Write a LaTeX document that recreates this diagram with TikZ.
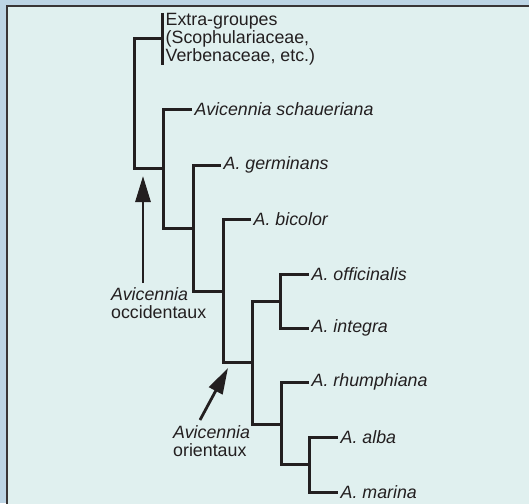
\documentclass[tikz,border=0pt]{standalone}
\usepackage{fontspec}
\setmainfont{Liberation Sans}
\usepackage{xcolor}
\usepackage{tikz}
\usetikzlibrary{arrows.meta, positioning, calc}

\definecolor{outerbg}{HTML}{BDD5E5}
\definecolor{panelbg}{HTML}{E0F0EF}
\definecolor{ink}{HTML}{231F20}
\newcommand{\labfont}{\fontsize{17.8}{18}\selectfont}

\begin{document}
\begin{tikzpicture}[
  x=1pt, y=-1pt,
  branch/.style={draw=ink, line width=3pt, line join=miter},
  taxon/.style={anchor=west, inner xsep=2.5pt, inner ysep=1pt, text=ink, font=\labfont\itshape},
  outgroup/.style={anchor=west, align=left, inner xsep=3.5pt, inner ysep=0pt, text=ink, font=\labfont},
  grouplab/.style={anchor=base west, align=left, inner sep=0pt, text=ink, font=\labfont},
  pointer/.style={draw=ink, line width=2.8pt, -{Triangle[length=26pt, width=15pt]}}
]
  \useasboundingbox (0,0) rectangle (529,503);
  \fill[outerbg] (0,0) rectangle (529,503);
  \filldraw[fill=panelbg, draw=ink!90, line width=2pt] (7,6) rectangle (540,515);

  % taxa
  \node[outgroup] (eg) at (162,39) {Extra-groupes\\(Scophulariaceae,\\Verbenaceae, etc.)};
  \node[taxon] (schau)  at (192,109) {Avicennia schaueriana};
  \node[taxon] (germ)   at (221,165) {A. germinans};
  \node[taxon] (bicol)  at (251,219) {A. bicolor};
  \node[taxon] (offic)  at (309,274) {A. officinalis};
  \node[taxon] (integ)  at (309,328) {A. integra};
  \node[taxon] (rhum)   at (309,382) {A. rhumphiana};
  \node[taxon] (alba)   at (338,437) {A. alba};
  \node[taxon] (marina) at (338,492) {A. marina};

  % internal nodes
  \coordinate (root) at (134,168);
  \coordinate (c2) at (163,168);
  \coordinate (c3) at (193,228);
  \coordinate (c4) at (223,291);
  \coordinate (c5) at (252,362);
  \coordinate (c6) at (280,301);
  \coordinate (c7) at (281,424);
  \coordinate (c8) at (309,464);

  \draw[branch] (eg.north west) -- (eg.south west);
  \draw[branch] (eg.west) -| (root) -- (c2);
  \draw[branch] (schau.west) -| (c2 |- c3) -- (c3);
  \draw[branch] (germ.west) -| (c3 |- c4) -- (c4);
  \draw[branch] (bicol.west) -| (c4 |- c5) -- (c5);
  \draw[branch] (c6) -| (c5 |- c7) -- (c7);
  \draw[branch] (offic.west) -| (c6 |- integ) -- (integ.west);
  \draw[branch] (rhum.west) -| (c7 |- c8) -- (c8);
  \draw[branch] (alba.west) -| (c8 |- marina) -- (marina.west);

  % group labels
  \node[grouplab] (occ) at (111,318) {\textit{Avicennia}\\occidentaux};
  \node[grouplab] (ori) at (173,456) {\textit{Avicennia}\\orientaux};
  \coordinate (occtail) at (143,283);
  \coordinate (occtip) at (143,176);
  \coordinate (oritail) at (200,420);
  \coordinate (oritip) at (228,368);
  \draw[pointer] (occtail) -- (occtip);
  \draw[pointer] (oritail) -- (oritip);
\end{tikzpicture}
\end{document}
